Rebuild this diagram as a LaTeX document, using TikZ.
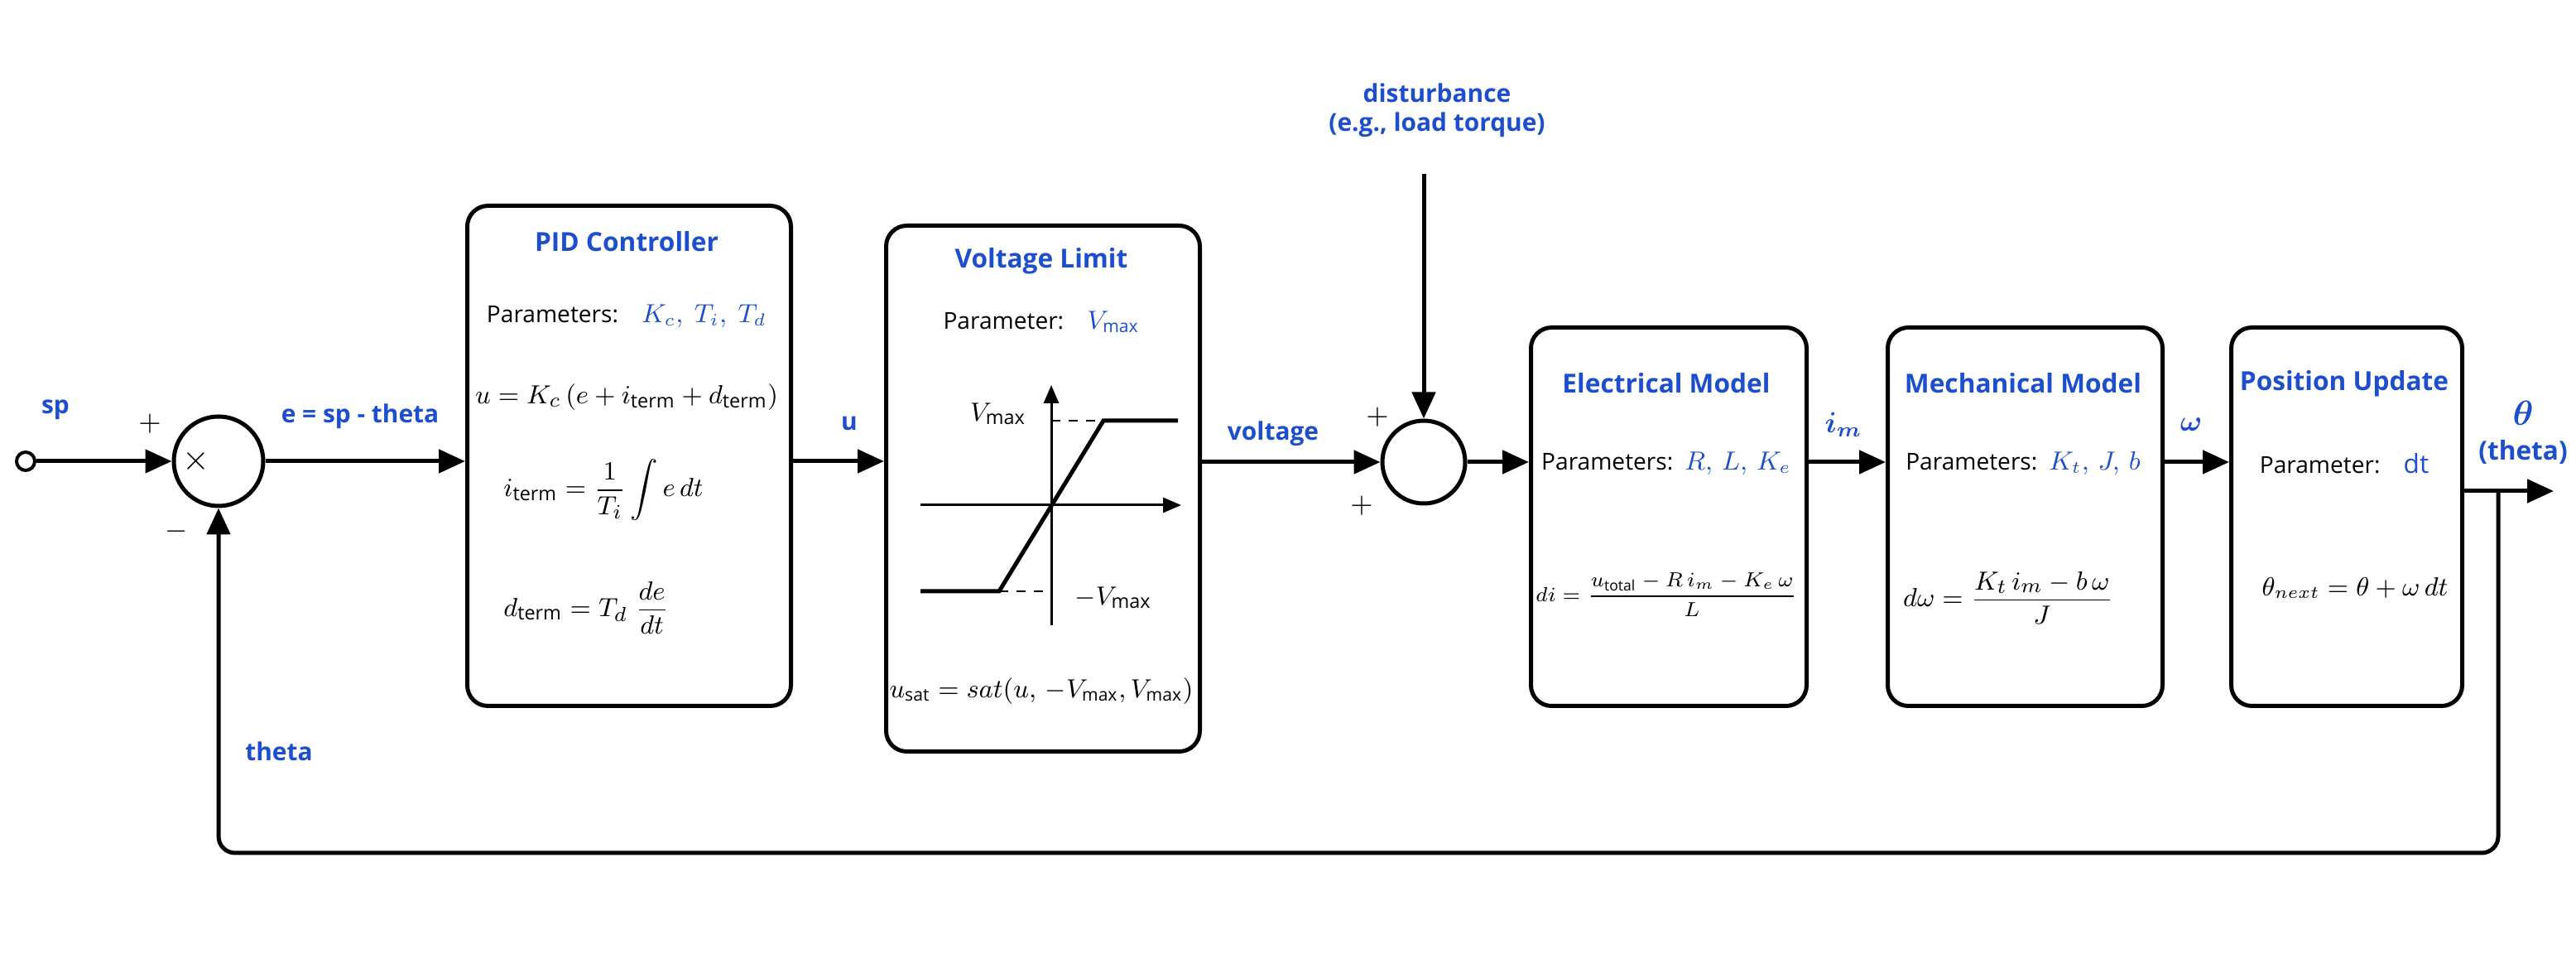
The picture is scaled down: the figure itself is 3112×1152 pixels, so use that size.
\documentclass[tikz,border=0pt]{standalone}
\usepackage{amsmath,amssymb}
\usepackage{fontspec}
\setmainfont{Open Sans}
\usetikzlibrary{positioning,arrows.meta}
\definecolor{sigblue}{RGB}{28,78,205}
\newcommand{\pval}[1]{{\color{sigblue}\fontsize{9}{10}\selectfont#1}}

\begin{document}
\begin{tikzpicture}[x=0.1mm,y=-0.1mm,
        block/.style={draw,line width=0.5mm,rounded corners=2.5mm,anchor=north west,inner sep=0pt},
        title/.style={text=sigblue,font=\bfseries\fontsize{9}{10}\selectfont},
        param/.style={font=\fontsize{8}{9}\selectfont},
        eqn/.style={font=\fontsize{9.5}{11}\selectfont},
        sig/.style={text=sigblue,font=\bfseries\fontsize{8.5}{10}\selectfont},
        sign/.style={font=\fontsize{10}{10}\selectfont},
        summer/.style={draw,circle,line width=0.5mm,minimum size=10.8mm,inner sep=0pt},
        flow/.style={-{Triangle[length=3.2mm,width=2.8mm]},line width=0.5mm},
        axis/.style={-{Triangle[length=2.2mm,width=1.8mm]},line width=0.3mm}]
    \useasboundingbox (0,0) rectangle (3112,1152);
    % blocks
    \node[block,minimum width=39.1mm,minimum height=60.4mm] (pid) at (562,246) {};
    \node[block,minimum width=37.9mm,minimum height=63.5mm] (vlim) at (1068,270) {};
    \node[block,minimum width=33.3mm,minimum height=45.7mm] (elec) at (1847,393) {};
    \node[block,minimum width=33.2mm,minimum height=45.7mm] (mech) at (2278,393) {};
    \node[block,minimum width=27.9mm,minimum height=45.7mm] (pos) at (2693,393) {};
    % summing junctions and input
    \node[summer] (sum1) at (264,557) {};
    \node[summer,minimum size=10mm] (sum2) at (1720,558) {};
    \node[draw,circle,fill=white,line width=0.4mm,minimum size=2.2mm,inner sep=0pt] (sp) at (31,557) {};
    \node[sign,font=\fontsize{13}{13}\selectfont] (times) at (237,557) {$\times$};
    \node[sign] (plus1) at (181,512) {$+$};
    \node[sign] (minus1) at (213,642) {$-$};
    \node[sign] (plus2) at (1664,504) {$+$};
    \node[sign] (plus3) at (1645,611) {$+$};
    % PID controller
    \node[title] (pidtitle) at (757,292) {PID Controller};
    \node[param] (pidpar) at (757,382) {Parameters:\quad\pval{$K_c,\ T_i,\ T_d$}};
    \node[eqn] (pideq1) at (757,480) {$u = K_c\,(e + i_{\mathrm{term}} + d_{\mathrm{term}})$};
    \node[eqn,anchor=west] (pideq2) at (596,592) {$i_{\mathrm{term}} = \dfrac{1}{T_i}\displaystyle\int e\,dt$};
    \node[eqn,anchor=west] (pideq3) at (596,734) {$d_{\mathrm{term}} = T_d\;\dfrac{de}{dt}$};
    % voltage limit
    \node[title] (vlimtitle) at (1258,315) {Voltage Limit};
    \node[param] (vlimpar) at (1258,389) {Parameter:\quad\pval{$V_{\max}$}};
    \draw[axis] (1112,610) -- (1427,610);
    \draw[axis] (1270,755) -- (1270,465);
    \draw[line width=0.25mm,dashed] (1270,508) -- (1333,508) (1207,714) -- (1270,714);
    \draw[line width=0.5mm] (1112,714) -- (1207,714) -- (1333,508) -- (1423,508);
    \node[eqn,anchor=east] (vmaxhi) at (1252,500) {$V_{\max}$};
    \node[eqn,anchor=west] (vmaxlo) at (1286,722) {$-V_{\max}$};
    \node[eqn,font=\fontsize{9}{11}\selectfont] (vlimeq) at (1258,835) {$u_{\mathrm{sat}} = sat(u,\,-V_{\max},V_{\max})$};
    % electrical model
    \node[title] (electitle) at (2013,463) {Electrical Model};
    \node[param] (elecpar) at (2013,560) {Parameters:\enspace\pval{$R,\,L,\,K_e$}};
    \node[eqn,font=\fontsize{7}{9}\selectfont] (eleceq) at (2013,718) {$di = \dfrac{u_{\mathrm{total}} - R\,i_m - K_e\,\omega}{L}$};
    % mechanical model
    \node[title] (mechtitle) at (2444,463) {Mechanical Model};
    \node[param] (mechpar) at (2444,560) {Parameters:\enspace\pval{$K_t,\,J,\,b$}};
    \node[eqn] (mecheq) at (2426,722) {$d\omega = \dfrac{K_t\,i_m - b\,\omega}{J}$};
    % position update
    \node[title] (postitle) at (2832,463) {Position Update};
    \node[param] (pospar) at (2832,560) {Parameter:\quad\pval{dt}};
    \node[eqn,font=\fontsize{9}{11}\selectfont] (poseq) at (2845,710) {$\theta_{next} = \theta + \omega\,dt$};
    % signal labels
    \node[sig] (splabel) at (67,495) {sp};
    \node[sig] (elabel) at (435,503) {e = sp - theta};
    \node[sig] (ulabel) at (1026,512) {u};
    \node[sig] (vlabel) at (1538,524) {voltage};
    \node[sig,align=center] (dist) at (1736,133) {disturbance\\(e.g., load torque)};
    \node[sig,font=\bfseries\fontsize{10}{10}\selectfont] (imlabel) at (2227,513) {$\boldsymbol{i_m}$};
    \node[sig,font=\bfseries\fontsize{10}{10}\selectfont] (wlabel) at (2647,513) {$\boldsymbol{\omega}$};
    \node[sig,align=center,font=\bfseries\fontsize{9}{12}\selectfont] (thlabel) at (3048,522) {{\fontsize{12}{12}\selectfont$\boldsymbol{\theta}$}\\(theta)};
    \node[sig] (fblabel) at (337,907) {theta};
    \coordinate (dstart) at (1720,210);
    \coordinate (out) at (3085,593);
    \coordinate (branch) at (3018,593);
    % connectors
    \draw[flow] (sp) -- (sum1);
    \draw[flow] (sum1) -- (sum1 -| pid.west);
    \draw[flow] (pid.east |- sum1) -- (vlim.west |- sum1);
    \draw[flow] (vlim.east |- sum2) -- (sum2);
    \draw[flow] (dstart) -- (sum2);
    \draw[flow] (sum2) -- (sum2 -| elec.west);
    \draw[flow] (elec.east |- sum2) -- (mech.west |- sum2);
    \draw[flow] (mech.east |- sum2) -- (pos.west |- sum2);
    \draw[flow] (pos.east |- out) -- (out);
    \draw[flow,rounded corners=2mm] (branch) -- (branch |- 0,1030) -| (sum1.south);
\end{tikzpicture}
\end{document}
